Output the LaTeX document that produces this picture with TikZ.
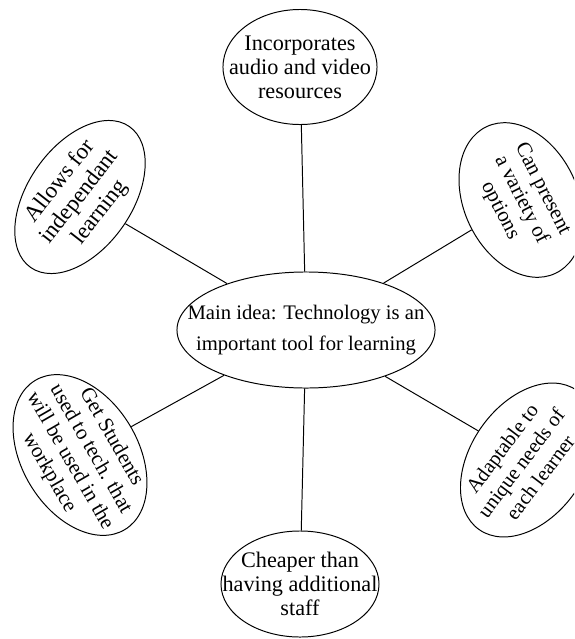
\documentclass[tikz,border=0pt]{standalone}
\usepackage{fontspec}
\setmainfont{Liberation Serif}
\usetikzlibrary{shapes.geometric}

\tikzset{
  bubble/.style={draw, ellipse, line width=0.7pt, inner sep=0pt},
  bubbletext/.style={align=center, inner sep=0pt, font=\fontsize{15}{17}\selectfont},
  link/.style={line width=0.7pt}
}

\begin{document}
\begin{tikzpicture}[x=0.025cm, y=-0.025cm]
   \clip (0,0) rectangle (574,639);

   % main idea in the middle
   \node[bubble, minimum width=6.45cm, minimum height=2.9cm] (main) at (306,330) {};
   \node[bubbletext, font=\fontsize{14.7}{22.5}\selectfont] (main-t) at (main) {Main idea: Technology is an\\important tool for learning};

   % top and bottom
   \node[bubble, minimum width=3.85cm, minimum height=2.875cm] (top) at (300,67) {};
   \node[bubbletext, font=\fontsize{15.8}{17}\selectfont] (top-t) at (top) {Incorporates\\audio and video\\resources};
   \node[bubble, minimum width=3.95cm, minimum height=2.65cm] (bot) at (300,584) {};
   \node[bubbletext, font=\fontsize{15.8}{17}\selectfont] (bot-t) at (bot) {Cheaper than\\having additional\\staff};

   % tilted ones on the left
   \node[bubble, rotate=55, minimum width=4.3cm, minimum height=2.6cm] (ul) at (80,197) {};
   \node[bubbletext, rotate=52, font=\fontsize{16.3}{18}\selectfont] (ul-t) at (ul) {Allows for\\independant\\learning};
   \node[bubble, rotate=-59, minimum width=4.35cm, minimum height=2.9cm] (ll) at (80,455) {};
   \node[bubbletext, rotate=-60] (ll-t) at (ll) {Get Students\\used to tech. that\\will be used in the\\workplace};

   % tilted ones on the right
   \node[bubble, rotate=-65, minimum width=4.05cm, minimum height=2.85cm] (ur) at (521,200) {};
   \node[bubbletext, rotate=-63] (ur-t) at (ur) {Can present\\a variety of\\options};
   \node[bubble, rotate=55, minimum width=4.25cm, minimum height=2.85cm] (lr) at (528,460) {};
   \node[bubbletext, rotate=53, font=\fontsize{14.6}{17}\selectfont] (lr-t) at (521,463) {Adaptable to\\unique needs of\\each learner};

   % spokes
   \foreach \b in {top,ur,lr,bot,ll,ul}
     \draw[link] (main) -- (\b);

\end{tikzpicture}
\end{document}
